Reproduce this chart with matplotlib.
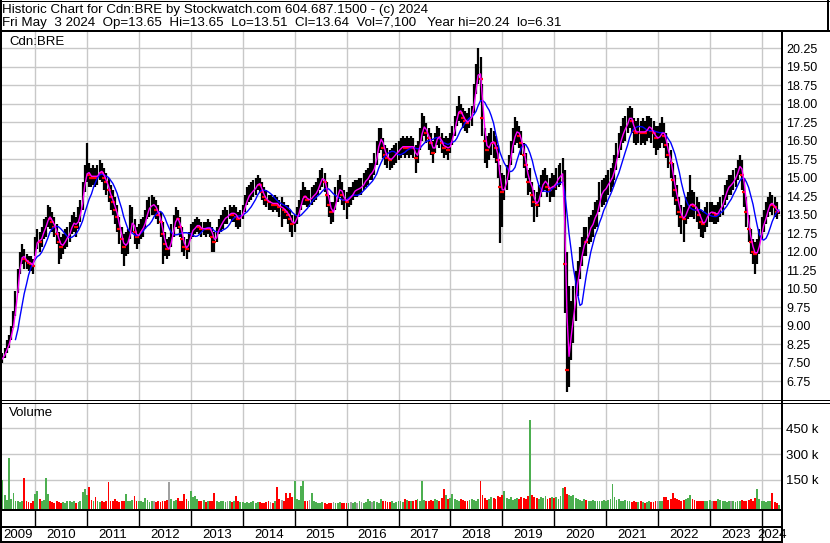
import numpy as np
import pandas as pd
import matplotlib
matplotlib.use('Agg')
import matplotlib.pyplot as plt
import matplotlib.dates as mdates

plt.rcParams['font.family'] = ['Liberation Sans', 'DejaVu Sans']

# Semi-monthly bars (1st and 15th): May 2009 .. May 2024
close_2009 = [7.6, 7.7, 7.9, 8.1, 8.35, 8.7, 9.2, 9.9, 10.9, 11.6, 11.9, 11.7, 11.6, 11.55, 11.5, 11.4]
close_2010 = [12.2, 12.5, 12.4, 12.6, 12.9, 13.0, 13.5, 13.3, 13.2, 13.0, 12.7, 12.4,
              12.2, 12.3, 12.5, 12.6, 12.8, 13.1, 13.2, 13.0, 13.4, 13.6, 14.3, 15.0]
close_2011 = [15.3, 15.1, 15.0, 15.1, 15.0, 15.1, 15.3, 15.2, 15.0, 14.8, 14.5, 14.2,
              14.0, 13.7, 13.4, 12.9, 12.5, 12.2, 12.3, 12.4, 13.0, 13.3, 12.8, 12.6]
close_2012 = [12.7, 12.9, 13.0, 13.3, 13.7, 13.8, 13.9, 13.9, 13.7, 13.5, 13.2, 12.7,
              12.3, 12.1, 12.1, 12.6, 13.0, 13.4, 13.3, 13.0, 12.5, 12.2, 12.1, 12.4]
close_2013 = [12.8, 12.9, 13.0, 13.1, 13.0, 12.9, 12.95, 12.9, 13.0, 12.9, 12.6, 12.4,
              12.7, 13.0, 13.1, 13.3, 13.4, 13.4, 13.6, 13.5, 13.6, 13.4, 13.3, 13.4]
close_2014 = [13.6, 13.9, 14.2, 14.3, 14.4, 14.5, 14.6, 14.8, 14.7, 14.4, 14.2, 14.1,
              14.0, 14.0, 13.9, 14.0, 13.9, 13.8, 13.8, 13.7, 13.6, 13.5, 13.3, 13.1]
close_2015 = [13.2, 13.4, 13.7, 14.0, 14.3, 14.2, 14.1, 14.1, 14.2, 14.3, 14.4, 14.6,
              14.9, 15.0, 14.8, 14.3, 13.9, 13.6, 13.6, 14.1, 14.4, 14.6, 14.3, 14.1]
close_2016 = [14.0, 14.2, 14.2, 14.4, 14.5, 14.5, 14.6, 14.6, 14.8, 14.9, 15.0, 15.2,
              15.2, 15.5, 16.0, 16.5, 16.6, 16.2, 15.9, 15.8, 15.7, 15.8, 15.9, 16.0]
close_2017 = [16.1, 16.2, 16.3, 16.2, 16.3, 16.2, 16.3, 16.2, 15.8, 16.0, 16.5, 17.0,
              17.1, 16.8, 16.6, 16.4, 16.0, 16.4, 16.7, 16.6, 16.4, 16.2, 16.3, 16.1]
close_2018 = [16.4, 16.7, 17.1, 17.5, 17.8, 17.6, 17.4, 17.3, 17.2, 17.4, 17.5, 18.2,
              18.9, 19.4, 19.0, 17.4, 16.5, 16.1, 16.3, 16.5, 16.4, 16.2, 15.7, 14.6]
close_2019 = [14.4, 14.6, 15.0, 15.4, 16.0, 16.5, 16.8, 16.9, 16.7, 16.4, 15.9, 15.5,
              14.8, 14.9, 14.3, 14.0, 13.9, 14.2, 14.6, 14.8, 14.9, 14.6, 14.5, 14.7]
close_2020 = [14.6, 14.9, 15.0, 15.1, 15.2, 11.5, 7.2, 8.3, 8.9, 9.6, 10.4, 11.0,
              11.6, 12.0, 12.5, 12.4, 12.9, 13.0, 13.2, 13.5, 13.6, 14.2, 14.4, 14.5]
close_2021 = [14.6, 14.8, 14.9, 15.1, 15.4, 15.9, 16.3, 16.6, 16.9, 17.0, 17.3, 17.5,
              17.3, 16.9, 16.8, 16.9, 16.8, 16.9, 16.8, 17.0, 17.1, 16.9, 16.8, 16.6]
close_2022 = [16.6, 16.7, 16.9, 16.7, 16.3, 15.9, 15.6, 14.9, 14.5, 14.1, 13.6, 13.4,
              13.3, 13.6, 13.8, 13.95, 13.9, 13.85, 13.7, 13.5, 13.2, 13.1, 13.3, 13.5]
close_2023 = [13.6, 13.6, 13.55, 13.5, 13.6, 13.8, 13.9, 14.3, 14.5, 14.7, 14.7, 14.9,
              15.0, 15.3, 15.6, 15.1, 14.4, 13.6, 12.9, 12.4, 12.0, 11.9, 12.0, 12.4]
close_2024 = [12.9, 13.2, 13.5, 13.8, 14.0, 13.9, 13.8, 13.6, 13.64]

high_2009 = [7.8, 7.9, 8.1, 8.4, 8.6, 9.0, 9.6, 10.4, 11.3, 12.0, 12.3, 12.1, 11.9, 11.8, 11.8, 11.7]
high_2010 = [12.6, 12.9, 12.8, 13.0, 13.3, 13.4, 13.9, 13.8, 13.6, 13.4, 13.1, 12.8,
             12.6, 12.7, 12.9, 13.0, 13.2, 13.5, 13.6, 13.4, 13.8, 14.1, 14.8, 15.5]
high_2011 = [16.4, 15.6, 15.4, 15.5, 15.4, 15.5, 15.7, 15.6, 15.4, 15.2, 15.0, 14.7,
             14.5, 14.2, 13.9, 13.4, 13.0, 12.7, 12.8, 12.9, 13.9, 13.8, 13.3, 13.0]
high_2012 = [13.1, 13.3, 13.4, 13.7, 14.1, 14.2, 14.3, 14.2, 14.1, 13.9, 13.6, 13.2,
             12.8, 12.5, 12.6, 13.1, 13.5, 13.8, 13.7, 13.4, 13.0, 12.6, 12.5, 12.8]
high_2013 = [13.1, 13.2, 13.3, 13.4, 13.3, 13.2, 13.2, 13.2, 13.3, 13.2, 13.0, 12.8,
             13.0, 13.3, 13.5, 13.7, 13.8, 13.7, 13.9, 13.8, 13.9, 13.8, 13.6, 13.7]
high_2014 = [13.9, 14.3, 14.6, 14.7, 14.8, 14.9, 15.0, 15.1, 15.0, 14.8, 14.6, 14.5,
             14.3, 14.3, 14.2, 14.3, 14.2, 14.1, 14.2, 14.0, 13.9, 13.9, 13.7, 13.5]
high_2015 = [13.5, 13.8, 14.1, 14.5, 14.8, 14.6, 14.5, 14.5, 14.6, 14.7, 14.8, 15.0,
             15.3, 15.4, 15.2, 14.8, 14.3, 14.0, 14.0, 14.6, 14.9, 15.1, 14.8, 14.5]
high_2016 = [14.4, 14.6, 14.6, 14.8, 14.9, 14.9, 15.0, 15.0, 15.2, 15.3, 15.4, 15.6,
             15.6, 16.0, 16.5, 17.0, 17.0, 16.6, 16.3, 16.2, 16.1, 16.2, 16.3, 16.4]
high_2017 = [16.5, 16.6, 16.7, 16.6, 16.7, 16.6, 16.7, 16.6, 16.3, 16.5, 17.0, 17.6,
             17.5, 17.2, 17.0, 16.8, 16.5, 16.8, 17.1, 17.0, 16.8, 16.6, 16.7, 16.6]
high_2018 = [16.8, 17.1, 17.5, 17.9, 18.3, 18.0, 17.8, 17.7, 17.6, 17.8, 17.9, 18.8,
             19.6, 20.24, 19.9, 18.8, 17.0, 16.7, 16.8, 17.0, 16.9, 16.7, 16.3, 15.5]
high_2019 = [15.2, 15.1, 15.5, 15.9, 16.5, 17.0, 17.45, 17.3, 17.1, 16.9, 16.4, 16.0,
             15.3, 15.4, 14.8, 14.5, 14.4, 14.7, 15.1, 15.3, 15.4, 15.1, 15.0, 15.2]
high_2020 = [15.1, 15.4, 15.5, 15.6, 15.8, 15.3, 12.0, 10.6, 10.0, 10.6, 11.2, 11.6,
             12.2, 12.6, 13.0, 13.0, 13.4, 13.5, 13.7, 14.0, 14.1, 14.8, 14.9, 15.0]
high_2021 = [15.1, 15.3, 15.4, 15.6, 15.9, 16.4, 16.8, 17.1, 17.4, 17.5, 17.8, 17.9,
             17.8, 17.4, 17.3, 17.4, 17.3, 17.4, 17.3, 17.5, 17.5, 17.4, 17.3, 17.1]
high_2022 = [17.1, 17.2, 17.45, 17.2, 16.8, 16.4, 16.1, 15.6, 15.1, 14.7, 14.2, 13.9,
             13.8, 14.2, 14.4, 15.1, 14.5, 14.4, 14.2, 14.0, 13.7, 13.6, 13.8, 14.0]
high_2023 = [14.0, 14.0, 13.9, 13.9, 14.0, 14.2, 14.3, 14.7, 14.9, 15.1, 15.1, 15.3,
             15.4, 15.7, 15.9, 15.7, 15.0, 14.2, 13.5, 12.9, 12.5, 12.4, 12.5, 12.9]
high_2024 = [13.4, 13.7, 14.0, 14.2, 14.4, 14.3, 14.2, 14.0, 13.65]

low_2009 = [7.4, 7.5, 7.7, 7.9, 8.1, 8.4, 8.9, 9.4, 10.3, 11.1, 11.5, 11.3, 11.3, 11.2, 11.2, 11.1]
low_2010 = [11.8, 12.1, 12.0, 12.2, 12.5, 12.6, 13.0, 12.9, 12.8, 12.6, 12.3, 11.5,
            11.7, 11.9, 12.1, 12.2, 12.4, 12.7, 12.8, 12.6, 12.9, 13.2, 13.7, 14.4]
low_2011 = [14.8, 14.6, 14.6, 14.7, 14.6, 14.7, 14.9, 14.8, 14.5, 14.3, 14.0, 13.7,
            13.5, 13.1, 12.8, 12.3, 11.9, 11.4, 11.8, 11.9, 12.5, 12.8, 12.3, 12.1]
low_2012 = [12.3, 12.5, 12.6, 12.9, 13.3, 13.4, 13.5, 13.5, 13.3, 13.1, 12.6, 11.5,
            11.8, 11.7, 11.8, 12.2, 12.6, 13.0, 12.9, 12.6, 12.0, 11.8, 11.7, 12.0]
low_2013 = [12.5, 12.6, 12.7, 12.8, 12.7, 12.6, 12.65, 12.6, 12.7, 12.6, 12.0, 12.0,
            12.4, 12.7, 12.8, 12.9, 13.1, 13.1, 13.3, 13.2, 13.2, 13.0, 12.9, 13.0]
low_2014 = [13.3, 13.6, 13.9, 14.0, 14.1, 14.2, 14.3, 14.5, 14.4, 14.1, 13.9, 13.8,
            13.7, 13.7, 13.6, 13.7, 13.6, 13.4, 13.0, 13.3, 13.3, 13.1, 12.8, 12.6]
low_2015 = [12.8, 13.1, 13.4, 13.7, 13.9, 13.9, 13.8, 13.8, 13.9, 14.0, 14.1, 14.3,
            14.5, 14.6, 14.4, 13.8, 13.4, 13.1, 13.2, 13.7, 14.0, 14.2, 13.9, 13.7]
low_2016 = [13.3, 13.8, 13.9, 14.1, 14.2, 14.2, 14.3, 14.3, 14.5, 14.6, 14.7, 14.9,
            14.9, 15.1, 15.5, 16.0, 16.1, 15.8, 15.5, 15.4, 15.3, 15.4, 15.5, 15.6]
low_2017 = [15.7, 15.8, 15.9, 15.8, 15.9, 15.8, 15.9, 15.8, 15.2, 15.6, 16.1, 16.5,
            16.7, 16.4, 16.1, 15.9, 15.6, 16.0, 16.3, 16.2, 16.0, 15.8, 15.9, 15.7]
low_2018 = [16.0, 16.3, 16.7, 17.1, 17.3, 17.2, 17.0, 16.9, 16.8, 17.0, 17.1, 17.6,
            18.4, 18.8, 18.1, 16.7, 15.6, 15.4, 15.7, 15.9, 15.8, 15.6, 15.0, 12.35]
low_2019 = [13.0, 14.1, 14.5, 14.9, 15.5, 16.0, 16.3, 16.4, 16.2, 15.9, 15.4, 15.0,
            14.3, 14.4, 13.8, 13.2, 13.4, 13.8, 14.2, 14.4, 14.5, 14.2, 14.0, 14.2]
low_2020 = [14.2, 14.5, 14.6, 14.7, 14.8, 9.5, 6.31, 6.5, 7.6, 8.3, 9.2, 10.2,
            10.9, 11.4, 11.8, 11.8, 12.3, 12.4, 12.6, 12.9, 13.0, 13.6, 13.8, 13.9]
low_2021 = [14.0, 14.3, 14.4, 14.6, 14.9, 15.3, 15.8, 16.1, 16.4, 16.5, 16.8, 17.0,
            16.8, 16.4, 16.3, 16.4, 16.3, 16.4, 16.3, 16.5, 16.6, 16.4, 16.2, 15.9]
low_2022 = [16.1, 16.2, 16.4, 16.2, 15.8, 15.4, 15.0, 14.2, 13.9, 13.5, 13.0, 12.7,
            12.4, 13.1, 13.3, 13.4, 13.4, 13.3, 13.2, 12.9, 12.6, 12.55, 12.8, 13.0]
low_2023 = [13.2, 13.2, 13.1, 13.1, 13.2, 13.4, 13.5, 13.9, 14.1, 14.3, 14.3, 14.5,
            14.6, 14.9, 15.1, 14.5, 13.8, 13.0, 12.4, 11.9, 11.5, 11.1, 11.5, 11.9]
low_2024 = [12.5, 12.8, 13.1, 13.4, 13.6, 13.5, 13.4, 13.3, 13.51]

# volume in thousands of shares
vol_2009 = [45, 150, 60, 35, 280, 40, 76, 30, 25, 20, 30, 163, 30, 20, 15, 25]
vol_2010 = [70, 87, 40, 30, 35, 163, 70, 25, 20, 18, 25, 20, 15, 22, 18, 25, 30, 20, 25, 18, 22, 30, 80, 100]
vol_2011 = [60, 107, 35, 30, 50, 25, 20, 30, 22, 25, 136, 30, 25, 40, 28, 22, 30, 25, 70, 30, 25, 35, 58, 28]
vol_2012 = [30, 25, 20, 48, 35, 22, 30, 25, 20, 28, 22, 30, 25, 35, 140, 40, 28, 35, 45, 30, 25, 70, 40, 30]
vol_2013 = [87, 50, 58, 40, 30, 25, 35, 22, 28, 30, 25, 76, 30, 22, 25, 30, 20, 28, 25, 22, 30, 58, 25, 20]
vol_2014 = [20, 18, 22, 15, 20, 25, 18, 22, 20, 15, 18, 20, 25, 22, 18, 30, 111, 40, 35, 30, 76, 45, 72, 50]
vol_2015 = [142, 40, 35, 117, 146, 30, 25, 35, 76, 30, 20, 15, 18, 20, 15, 12, 18, 15, 20, 18, 15, 22, 18, 15]
vol_2016 = [15, 18, 20, 15, 22, 18, 25, 20, 18, 22, 40, 25, 20, 30, 22, 18, 38, 25, 30, 22, 20, 25, 18, 22]
vol_2017 = [25, 30, 22, 40, 35, 28, 30, 25, 35, 40, 30, 146, 35, 30, 28, 35, 30, 40, 35, 30, 45, 100, 60, 40]
vol_2018 = [45, 70, 40, 35, 30, 40, 35, 30, 28, 35, 40, 35, 30, 40, 146, 60, 45, 35, 40, 50, 45, 40, 55, 50]
vol_2019 = [60, 87, 45, 40, 50, 35, 40, 45, 40, 50, 45, 40, 55, 500, 60, 50, 45, 40, 50, 45, 55, 40, 45, 50]
vol_2020 = [45, 50, 40, 55, 105, 110, 70, 60, 55, 60, 45, 40, 35, 30, 40, 35, 30, 25, 35, 30, 25, 30, 28, 35]
vol_2021 = [30, 35, 40, 127, 50, 35, 40, 30, 25, 35, 30, 25, 20, 25, 22, 20, 25, 22, 18, 20, 25, 22, 20, 25]
vol_2022 = [30, 25, 28, 50, 52, 35, 40, 75, 45, 40, 35, 30, 35, 40, 45, 60, 40, 35, 30, 25, 30, 28, 25, 30]
vol_2023 = [35, 30, 25, 28, 40, 35, 30, 25, 22, 30, 28, 25, 20, 25, 30, 35, 28, 30, 35, 40, 30, 45, 100, 40]
vol_2024 = [30, 25, 20, 25, 30, 75, 20, 15, 7.1]

years = range(2009, 2025)
close = np.array(sum([globals()['close_%d' % y] for y in years], []))
high = np.array(sum([globals()['high_%d' % y] for y in years], []))
low = np.array(sum([globals()['low_%d' % y] for y in years], []))
vol = np.array(sum([globals()['vol_%d' % y] for y in years], [])) * 1000

dates = pd.date_range('2009-05-01', periods=len(close), freq='SMS')
xd = mdates.date2num(dates)

ma_short = pd.Series(close).rolling(2).mean()
ma_long = pd.Series(close).rolling(8).mean()

chg = np.diff(close, prepend=close[0])
vol_colors = np.where(chg > 0, '#4caf50', np.where(chg < 0, '#ff0000', '#a0a0a0'))

header1 = 'Historic Chart for Cdn:BRE by Stockwatch.com 604.687.1500 - (c) 2024'
header2 = 'Fri May  3 2024  Op=13.65  Hi=13.65  Lo=13.51  Cl=13.64  Vol=7,100   Year hi=20.24  lo=6.31'

############
# LAYOUT   #
############

W, H = 830, 543
fig = plt.figure(figsize=(W / 100, H / 100), dpi=100)
fig.patch.set_facecolor('white')


def box(l, t, r, b):
    return [l / W, 1 - b / H, (r - l) / W, (b - t) / H]


x0 = mdates.date2num(pd.Timestamp('2009-04-28'))
x1 = mdates.date2num(pd.Timestamp('2024-05-23'))
year_starts = mdates.date2num(pd.to_datetime(['%d-01-01' % y for y in range(2010, 2025)]))

grid_kw = dict(color='#c8c8c8', linewidth=1.0)

# price panel
ax = fig.add_axes(box(0, 32, 782, 399.5))
ax.vlines(xd, low, high, color='black', linewidth=1.6, zorder=2)
down = chg < 0
ax.plot(xd[down], close[down], ls='none', marker='_', ms=2.5, mew=1.6, color='red', zorder=3)
ax.plot(xd, ma_long, color='#0000ff', linewidth=1.0, zorder=4)
ax.plot(xd, ma_short, color='#ff00ff', linewidth=1.0, zorder=5)
ax.set_xlim(x0, x1)
ax.set_ylim(6.0, 20.9)
ax.set_yticks(np.arange(6.75, 20.26, 0.75))
ax.yaxis.set_major_formatter(plt.FormatStrFormatter('%.2f'))
ax.yaxis.tick_right()
ax.set_xticks(year_starts)
ax.tick_params(axis='y', length=0, pad=3.2, labelsize=9)
ax.tick_params(axis='x', length=0, labelbottom=False)
ax.grid(True, **grid_kw)
ax.set_axisbelow(True)
for s in ax.spines.values():
    s.set_visible(False)
ax.text(9 / 782, 1 - 10 / 367.5, 'Cdn:BRE', transform=ax.transAxes, fontsize=9.5, va='center')

# volume panel
vax = fig.add_axes(box(0, 402.5, 782, 509))
vlo, vhi = -18600, 599400
vax.bar(xd, vol - vlo, bottom=vlo, width=13, color=vol_colors, linewidth=0, zorder=2)
vax.set_xlim(x0, x1)
vax.set_ylim(vlo, vhi)
vax.set_yticks([150000, 300000, 450000])
vax.set_yticklabels(['150 k', '300 k', '450 k'])
vax.yaxis.tick_right()
vax.set_xticks(year_starts)
vax.tick_params(axis='y', length=0, pad=3.2, labelsize=9.5)
vax.tick_params(axis='x', length=0, labelbottom=False)
vax.grid(True, **grid_kw)
vax.set_axisbelow(True)
for s in vax.spines.values():
    s.set_visible(False)
vax.text(9 / 782, 1 - 10.5 / 106.5, 'Volume', transform=vax.transAxes, fontsize=9.5, va='center')

# year rows
bax = fig.add_axes(box(0, 509, 782, 542))
bax.set_xlim(x0, x1)
bax.set_ylim(33, 0)
bax.axis('off')
bax.vlines(year_starts, 0, 18, color='black', linewidth=1.0)
bax.vlines(year_starts[-1], 18, 33, color='black', linewidth=1.0)
edges = np.concatenate([[x0], year_starts, [x1]])
for y, a, b in zip(range(2009, 2025), edges[:-1], edges[1:]):
    bax.text((a + b) / 2, 25.5, str(y), ha='center', va='center', fontsize=9.5)

# frame lines and header
frame = fig.add_axes([0, 0, 1, 1], zorder=10)
frame.set_xlim(0, W)
frame.set_ylim(H, 0)
frame.axis('off')
frame.patch.set_alpha(0)
k = 0.72  # px -> pt
frame.plot([0, 829], [0.5, 0.5], color='black', lw=1 * k)
frame.plot([828, 828], [0, 31], color='black', lw=2 * k)
frame.plot([0, W], [31, 31], color='black', lw=2 * k)
frame.plot([1, 1], [0, 542], color='black', lw=2 * k)
frame.plot([0, W], [399.5, 399.5], color='black', lw=1 * k)
frame.plot([0, W], [402.5, 402.5], color='black', lw=1 * k)
frame.plot([0, 782], [509.5, 509.5], color='black', lw=2 * k)
frame.plot([0, 782], [527, 527], color='black', lw=2 * k)
frame.plot([0, 782], [541.5, 541.5], color='black', lw=2 * k)
frame.plot([782, 782], [31, 542], color='black', lw=2 * k)
frame.text(2, 10, header1, fontsize=9.6, va='center')
frame.text(2, 23, header2, fontsize=9.6, va='center')

fig.savefig('out.png', dpi=100)
